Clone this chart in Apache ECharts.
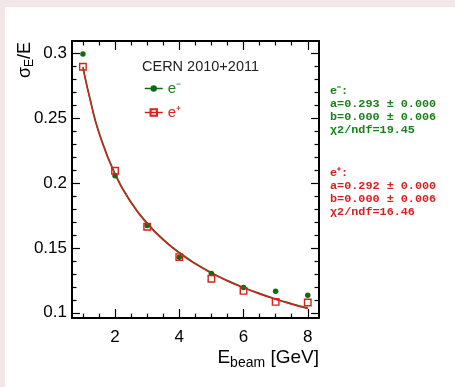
<!DOCTYPE html>
<html>
<head>
<meta charset="utf-8">
<script src="https://cdn.jsdelivr.net/npm/echarts@6/dist/echarts.min.js"></script>
<style>
  html, body { margin: 0; padding: 0; background: #f2e6e6; }
  #chart { position: absolute; left: 5px; top: 7px; width: 450px; height: 380px; background: #fff; }
</style>
</head>
<body>
<div id="chart"></div>
<script>
// measured points
const beamE = [1, 2, 3, 4, 5, 6, 7, 8];
const resElectron = [0.2995, 0.2056, 0.1673, 0.1429, 0.1303, 0.1195, 0.1167, 0.1136];
const resPositron = [0.2897, 0.2095, 0.1663, 0.1429, 0.1262, 0.1169, 0.1084, 0.1079];

// fit curves
const fitE = [1, 1.25, 1.5, 2, 2.5, 3, 3.5, 4, 4.5, 5, 5.5, 6, 6.5, 7, 7.5, 8];
const fitElectron = [0.2895, 0.2621, 0.2392, 0.2072, 0.1853, 0.1692, 0.1566, 0.1465, 0.1381, 0.131, 0.1249, 0.1196, 0.1149, 0.1107, 0.107, 0.1036];
const fitPositron = [0.2885, 0.2612, 0.2384, 0.2065, 0.1847, 0.1686, 0.1561, 0.146, 0.1376, 0.1306, 0.1245, 0.1192, 0.1145, 0.1104, 0.1066, 0.1032];

// ticks
const xTickLabels = [2, 4, 6, 8];
const xMinorTicks = [1, 1.5, 2.5, 3, 3.5, 4.5, 5, 5.5, 6.5, 7, 7.5];
const yTickLabels = [0.1, 0.15, 0.2, 0.25, 0.3];
const yMinorTicks = [0.11, 0.12, 0.13, 0.14, 0.16, 0.17, 0.18, 0.19, 0.21, 0.22, 0.23, 0.24, 0.26, 0.27, 0.28, 0.29];

const GREEN = "#0e6e0e";
const GREEN_TXT = "#1a801a";
const RED = "#d8201e";
const xRange = { min: 0.66, max: 8.35 };
const yRange = { min: 0.096, max: 0.3095 };

const zip = (xs, ys) => xs.map((x, i) => [x, ys[i]]);

function xAx(position, ticks, len, line, labels) {
  return {
    type: "value", position, ...xRange,
    axisLine: { show: line, onZero: false, lineStyle: { color: "#000", width: 2 } },
    axisTick: { show: true, inside: true, length: len, customValues: ticks, lineStyle: { color: "#000", width: 1.2 } },
    axisLabel: labels
      ? { show: true, customValues: labels, margin: 11, color: "#000", fontSize: 17, fontFamily: "Liberation Sans" }
      : { show: false },
    splitLine: { show: false },
  };
}
function yAx(position, ticks, len, line, labels) {
  return {
    type: "value", position, ...yRange,
    axisLine: { show: line, onZero: false, lineStyle: { color: "#000", width: 2 } },
    axisTick: { show: true, inside: true, length: len, customValues: ticks, lineStyle: { color: "#000", width: 1.2 } },
    axisLabel: labels
      ? { show: true, customValues: labels, margin: 5, color: "#000", fontSize: 17, fontFamily: "Liberation Sans" }
      : { show: false },
    splitLine: { show: false },
  };
}

const monoText = (top, text, color) => ({
  type: "text", left: 325, top,
  style: { text, fill: color, font: "bold 11.8px 'Liberation Mono'" },
});

const chart = echarts.init(document.getElementById("chart"), null, { renderer: "canvas" });
chart.setOption({
  animation: false,
  grid: { left: 67, top: 34, right: 136, bottom: 69 },
  xAxis: [
    xAx("bottom", xTickLabels, 9, true, xTickLabels),
    xAx("bottom", xMinorTicks, 4.5, false, null),
    xAx("top", xTickLabels, 9, true, null),
    xAx("top", xMinorTicks, 4.5, false, null),
  ],
  yAxis: [
    yAx("left", yTickLabels, 8, true, yTickLabels),
    yAx("left", yMinorTicks, 4.5, false, null),
    yAx("right", yTickLabels, 8, true, null),
    yAx("right", yMinorTicks, 4.5, false, null),
  ],
  title: {
    text: "CERN 2010+2011", left: 132, top: 47,
    textStyle: { color: "#222", fontSize: 14.5, fontWeight: "normal", fontFamily: "Liberation Sans" },
  },
  legend: {
    orient: "vertical", left: 134, top: 69, itemGap: 9, itemWidth: 18, itemHeight: 8,
    textStyle: { fontSize: 15, fontFamily: "Liberation Sans" },
    lineStyle: { opacity: 1, width: 1.5 },
    data: [
      { name: "e⁻", textStyle: { color: GREEN_TXT } },
      { name: "e⁺", textStyle: { color: RED } },
    ],
  },
  series: [
    {
      name: "fit e⁻", type: "line", smooth: true, showSymbol: false, z: 2,
      data: zip(fitE, fitElectron), lineStyle: { color: "#1c6e1c", width: 1.6 },
    },
    {
      name: "fit e⁺", type: "line", smooth: true, showSymbol: false, z: 3,
      data: zip(fitE, fitPositron), lineStyle: { color: RED, width: 1.4 },
    },
    {
      name: "e⁻", type: "line", z: 4, symbol: "circle", symbolSize: 5.5,
      data: zip(beamE, resElectron),
      itemStyle: { color: GREEN }, lineStyle: { color: GREEN, opacity: 0 },
    },
    {
      name: "e⁺", type: "line", z: 5, symbol: "rect", symbolSize: 6.5,
      data: zip(beamE, resPositron),
      itemStyle: { color: "rgba(0,0,0,0)", borderColor: RED, borderWidth: 1.4 },
      lineStyle: { color: RED, opacity: 0 },
    },
  ],
  graphic: [
    monoText(78, "e⁻:", GREEN_TXT),
    monoText(91, "a=0.293 ± 0.000", GREEN_TXT),
    monoText(104, "b=0.000 ± 0.006", GREEN_TXT),
    monoText(117, "χ2/ndf=19.45", GREEN_TXT),
    monoText(160, "e⁺:", RED),
    monoText(173, "a=0.292 ± 0.000", RED),
    monoText(186, "b=0.000 ± 0.006", RED),
    monoText(199, "χ2/ndf=16.46", RED),
    {
      type: "text", left: 11, top: 35, rotation: Math.PI / 2,
      style: {
        text: "{a|σ}{s|E}{a|/E}",
        rich: {
          a: { fontSize: 18, fontFamily: "Liberation Sans", fill: "#000" },
          s: { fontSize: 12, fontFamily: "Liberation Sans", fill: "#000", padding: [10, 0, 0, 0] },
        },
      },
    },
    {
      type: "text", right: 136, top: 341,
      style: {
        text: "{a|E}{s|beam}{a| [GeV]}",
        rich: {
          a: { fontSize: 19, fontFamily: "Liberation Sans", fill: "#000" },
          s: { fontSize: 14, fontFamily: "Liberation Sans", fill: "#000", padding: [12, 0, 0, 0] },
        },
      },
    },
  ],
});
</script>
</body>
</html>
